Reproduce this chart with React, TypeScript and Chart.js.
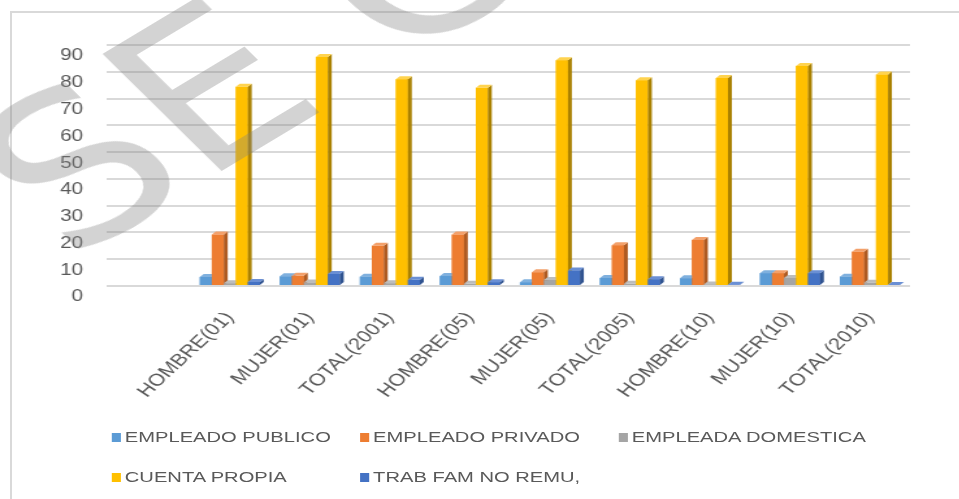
import React, { useEffect, useRef } from 'react';
import { Chart, registerables } from 'chart.js';
Chart.register(...registerables);

const categories = ['HOMBRE(01)', 'MUJER(01)', 'TOTAL(2001)', 'HOMBRE(05)', 'MUJER(05)', 'TOTAL(2005)', 'HOMBRE(10)', 'MUJER(10)', 'TOTAL(2010)'];
const empleadoPublico = [3.4, 3.6, 3.5, 3.7, 1.4, 3.0, 2.9, 4.8, 3.5];
const empleadoPrivado = [19.2, 3.8, 15.0, 19.2, 5.1, 15.2, 17.2, 4.8, 12.8];
const empleadaDomestica = [1.0, 1.3, 1.0, 0.8, 2.2, 0.8, 0.6, 3.0, 1.2];
const cuentaPropia = [74.4, 85.5, 77.2, 74.0, 84.3, 76.8, 77.7, 82.2, 79.0];
const trabFamNoRemu = [1.5, 4.5, 2.3, 1.4, 5.8, 2.5, 0.5, 4.8, 0.4];
const yTicks = [0, 10, 20, 30, 40, 50, 60, 70, 80, 90];

const seriesNames = ['EMPLEADO PUBLICO', 'EMPLEADO PRIVADO', 'EMPLEADA DOMESTICA', 'CUENTA PROPIA', 'TRAB FAM NO REMU,'];
const seriesData = [empleadoPublico, empleadoPrivado, empleadaDomestica, cuentaPropia, trabFamNoRemu];
const frontColors = ['#5b9bd5', '#ed7d31', '#a5a5a5', '#ffc000', '#4472c4'];
const sideColors = ['#41719c', '#ae5a21', '#787878', '#a98000', '#2f528f'];
const topColors = ['#7fb0de', '#f3a06a', '#bdbdbd', '#ffd34f', '#6a8fd4'];

const S = 1.3; // horizontal stretch of the reference image
const W = 738;
const H = 420;

const bars3d = {
  id: 'bars3d',
  afterDatasetsDraw(chart: any) {
    const ctx = chart.ctx;
    const metas = chart.data.datasets.map((_: any, i: number) => chart.getDatasetMeta(i));
    const n = chart.data.labels.length;
    const d = 3, e = 3;
    ctx.save();
    for (let j = 0; j < n; j++) {
      for (let i = 0; i < metas.length; i++) {
        const el = metas[i].data[j];
        if (!el) continue;
        const { x, y, base, width } = el.getProps(['x', 'y', 'base', 'width'], true);
        const l = x - width / 2;
        const r = x + width / 2;
        ctx.fillStyle = frontColors[i];
        ctx.fillRect(l, y, width, base - y);
        ctx.fillStyle = sideColors[i];
        ctx.beginPath();
        ctx.moveTo(r, y);
        ctx.lineTo(r + d, y - e);
        ctx.lineTo(r + d, base - e);
        ctx.lineTo(r, base);
        ctx.closePath();
        ctx.fill();
        ctx.fillStyle = topColors[i];
        ctx.beginPath();
        ctx.moveTo(l, y);
        ctx.lineTo(l + d, y - e);
        ctx.lineTo(r + d, y - e);
        ctx.lineTo(r, y);
        ctx.closePath();
        ctx.fill();
      }
    }
    ctx.restore();
  },
};

const legendPos = [
  { x: 86, y: 437 },
  { x: 277, y: 437 },
  { x: 476, y: 437 },
  { x: 86, y: 477 },
  { x: 277, y: 477 },
];

export default function App() {
  const ref = useRef<HTMLCanvasElement>(null);
  useEffect(() => {
    const chart = new Chart(ref.current as HTMLCanvasElement, {
      type: 'bar',
      data: {
        labels: categories,
        datasets: seriesData.map((d, i) => ({
          label: seriesNames[i],
          data: d,
          backgroundColor: frontColors[i],
          borderWidth: 0,
          barPercentage: 1,
          categoryPercentage: 0.75,
        })),
      },
      options: {
        responsive: false,
        animation: false,
        devicePixelRatio: 1,
        layout: { padding: { top: 45, right: 38, left: 0, bottom: 0 } },
        plugins: {
          legend: { display: false },
          tooltip: { enabled: false },
        },
        scales: {
          x: {
            grid: { display: false },
            border: { display: false },
            ticks: {
              autoSkip: false,
              minRotation: 50,
              maxRotation: 50,
              padding: 14,
              color: '#595959',
              font: { family: 'Liberation Sans', size: 17 },
            },
            afterFit: (s: any) => { s.height = H - 286; },
          },
          y: {
            min: 0,
            max: 90,
            afterBuildTicks: (s: any) => { s.ticks = yTicks.map((v) => ({ value: v })); },
            grid: { color: '#d9d9d9', lineWidth: 2, drawTicks: true, tickLength: 64, tickColor: '#d9d9d9' },
            border: { display: false },
            ticks: {
              padding: 18,
              labelOffset: 11,
              color: '#595959',
              font: { family: 'Liberation Sans', size: 16 },
            },
            afterFit: (s: any) => { s.width = 146; },
          },
        },
      },
      plugins: [bars3d],
    });
    return () => chart.destroy();
  }, []);

  return (
    <>
      <div style={{ position: 'fixed', left: 10, top: 11, width: 949, height: 488, borderLeft: '2px solid #d9d9d9', borderTop: '2px solid #d9d9d9', boxSizing: 'border-box' }} />
      <div style={{ position: 'fixed', left: 0, top: 0, width: W, height: 499, transform: `scaleX(${S})`, transformOrigin: '0 0' }}>
        <canvas ref={ref} width={W} height={H} style={{ position: 'absolute', left: 0, top: 0, width: W, height: H }} />
        {seriesNames.map((name, i) => (
          <div key={name} style={{ position: 'absolute', left: legendPos[i].x, top: legendPos[i].y - 10, height: 20, display: 'flex', alignItems: 'center', whiteSpace: 'nowrap', fontFamily: 'Liberation Sans', fontSize: 15.5, color: '#595959' }}>
            <span style={{ display: 'inline-block', width: 7, height: 9, background: frontColors[i], marginRight: 3 }} />
            <span>{name}</span>
          </div>
        ))}
        <div style={{ position: 'absolute', left: -52, top: 128, fontFamily: 'DejaVu Sans', fontSize: 203, lineHeight: 1, color: 'rgba(128,128,128,0.35)', transform: 'rotate(-38deg)', transformOrigin: '0 0', whiteSpace: 'nowrap', pointerEvents: 'none' }}>
          SE<span style={{ marginLeft: 62 }}>C</span>
        </div>
      </div>
    </>
  );
}
